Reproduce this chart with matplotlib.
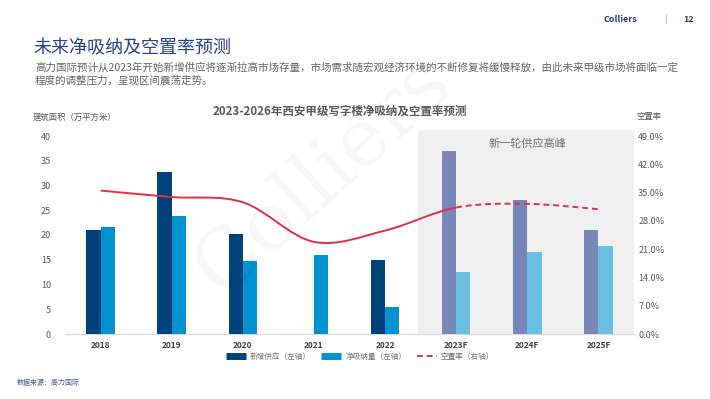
import matplotlib
matplotlib.use('Agg')
import matplotlib.pyplot as plt
from matplotlib.path import Path
from matplotlib.patches import PathPatch, Rectangle
from matplotlib.lines import Line2D
import numpy as np

plt.rcParams['font.family'] = ['Noto Sans CJK SC', 'DejaVu Sans']

years = ['2018', '2019', '2020', '2021', '2022', '2023F', '2024F', '2025F']
supply = [21.0, 32.8, 20.2, 0.0, 14.9, 37.0, 27.0, 21.0]
absorption = [21.6, 23.9, 14.7, 16.0, 5.5, 12.6, 16.6, 17.8]
vacancy = [35.5, 33.9, 32.6, 22.8, 25.6, 31.3, 32.2, 30.9]
forecast_from = 5

navy = '#00427A'
blue = '#0093D0'
navy_f = '#7886B8'
blue_f = '#6BC0E4'
red = '#E03048'
gray = '#595959'


def smooth_path(xs, ys, i0, i1):
    # catmull-rom segments as cubic beziers, like excel smoothed lines
    pts = np.column_stack([xs, ys])
    n = len(pts)
    verts = [pts[i0]]
    codes = [Path.MOVETO]
    for i in range(i0, i1):
        p0 = pts[max(i - 1, 0)]
        p1 = pts[i]
        p2 = pts[i + 1]
        p3 = pts[min(i + 2, n - 1)]
        c1 = p1 + (p2 - p0) / 6.0
        c2 = p2 - (p3 - p1) / 6.0
        verts += [c1, c2, p2]
        codes += [Path.CURVE4] * 3
    return Path(verts, codes)


fig = plt.figure(figsize=(7.1, 3.99), dpi=100)
ax = fig.add_axes([65 / 710, 65 / 399, 569 / 710, 198 / 399])
ax2 = ax.twinx()

x = np.arange(len(years))
w = 0.2
c_sup = [navy if i < forecast_from else navy_f for i in x]
c_abs = [blue if i < forecast_from else blue_f for i in x]
ax.bar(x - w / 2, supply, w, color=c_sup, zorder=3)
ax.bar(x + w / 2, absorption, w, color=c_abs, zorder=3)

ax.add_patch(Rectangle((4.46, 0), 3.04, 41.2, color='#F0F0F0', zorder=0,
                       clip_on=False, lw=0))
ax.text(6.0, 38.4, '新一轮供应高峰', ha='center', va='center', fontsize=8,
        color='#707070', zorder=4)

ax.set_xlim(-0.5, 7.5)
ax.set_ylim(0, 40)
ax.set_yticks(np.arange(0, 41, 5))
ax.set_xticks(x)
ax.set_xticklabels(years, fontsize=6, fontweight='bold', color='#404040')
ax.tick_params(axis='y', labelsize=6.5, colors='#595959', length=0, pad=10)
ax.tick_params(axis='x', length=0, pad=5)
for s in ['top', 'right', 'left']:
    ax.spines[s].set_visible(False)
ax.spines['bottom'].set_color('#D9D9D9')

ax2.set_ylim(0, 49)
ax2.set_yticks(np.arange(0, 50, 7))
ax2.set_yticklabels(['%.1f%%' % v for v in np.arange(0, 50, 7)])
ax2.tick_params(axis='y', labelsize=6.5, colors='#595959', length=0, pad=3)
for s in ax2.spines.values():
    s.set_visible(False)
ax2.set_zorder(ax.get_zorder() + 1)
ax2.patch.set_visible(False)

ax2.add_patch(PathPatch(smooth_path(x, vacancy, 0, forecast_from),
                        fill=False, ec=red, lw=1.4))
ax2.add_patch(PathPatch(smooth_path(x, vacancy, forecast_from, len(x) - 1),
                        fill=False, ec=red, lw=1.4, ls=(0, (3, 2))))

# watermark
fig.text(0.455, 0.56, 'Colliers', fontsize=58, family='DejaVu Serif',
         color='#000000', alpha=0.035, rotation=42, ha='center', va='center')

# texts
fig.text(33 / 710, 1 - 48 / 399, '未来净吸纳及空置率预测', fontsize=13,
         color='#25408F', va='center')
fig.text(35 / 710, 1 - 67 / 399,
         '高力国际预计从2023年开始新增供应将逐渐拉高市场存量，市场需求随宏观经济环境的不断修复将缓慢释放，由此未来甲级市场将面临一定',
         fontsize=7.6, color='#666666', va='center')
fig.text(35 / 710, 1 - 81 / 399, '程度的调整压力，呈现区间震荡走势。',
         fontsize=7.6, color='#666666', va='center')
fig.text(603 / 710, 1 - 19 / 399, 'Colliers', fontsize=6.5, fontweight='bold',
         color='#25408F', va='center')
fig.text(664 / 710, 1 - 19 / 399, '|', fontsize=6.5, color='#999999', va='center')
fig.text(683 / 710, 1 - 19 / 399, '12', fontsize=6.5, fontweight='bold',
         color='#25408F', va='center')

fig.text(340 / 710, 1 - 111 / 399, '2023-2026年西安甲级写字楼净吸纳及空置率预测',
         fontsize=8.3, fontweight='bold', color=gray, ha='center', va='center')
fig.text(33 / 710, 1 - 117 / 399, '建筑面积（万平方米）', fontsize=6,
         color=gray, va='center')
fig.text(636 / 710, 1 - 117 / 399, '空置率', fontsize=6, color=gray, va='center')

handles = [Line2D([], [], color=navy, lw=5, solid_capstyle='butt'),
           Line2D([], [], color=blue, lw=5, solid_capstyle='butt'),
           Line2D([], [], color=red, lw=1.4, ls=(0, (3, 2)))]
labels = ['新增供应（左轴）', '净吸纳量（左轴）', '空置率（右轴）']
fig.legend(handles, labels, loc='center', bbox_to_anchor=(360 / 710, 1 - 357 / 399),
           ncol=3, frameon=False, fontsize=5.5, labelcolor='#707070',
           handlelength=2.6, columnspacing=1.4, handletextpad=0.5)

fig.text(17 / 710, 1 - 383 / 399, '数据来源：高力国际', fontsize=5,
         style='italic', color='#3F5AA0', va='center')

fig.savefig('out.png', dpi=100)
